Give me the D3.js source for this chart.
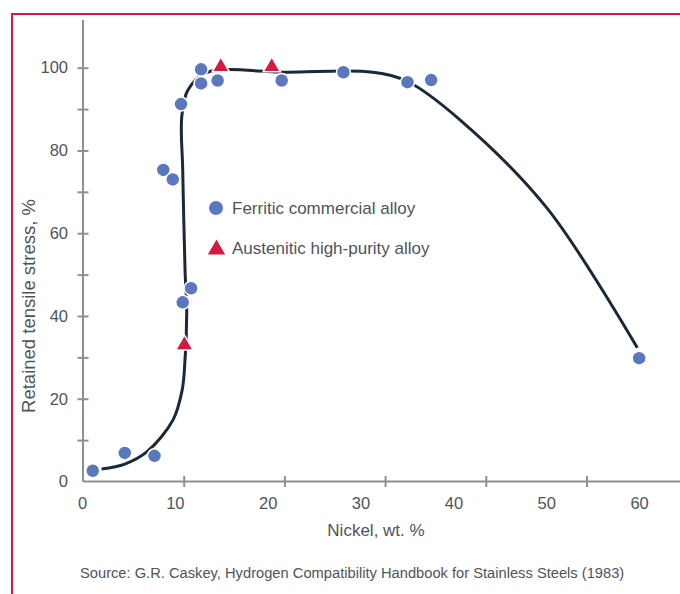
<!DOCTYPE html>
<html>
<head>
<meta charset="utf-8">
<script src="https://cdn.jsdelivr.net/npm/d3@7"></script>
<style>
  body { margin: 0; background: #fff; }
  svg { display: block; font-family: "Liberation Sans", Arial, sans-serif; }
</style>
</head>
<body>
<div id="chart"></div>
<script>
// Ferritic commercial alloy (circles)
let ferriticNi = [1.05, 4.5, 7.7, 8.65, 9.67, 10.56, 10.74, 11.64, 12.72, 12.72, 14.5, 21.4, 28.05, 34.95, 37.5, 59.9];
let ferriticStress = [2.6, 6.9, 6.2, 75.3, 73.0, 91.2, 43.3, 46.7, 99.6, 96.2, 96.9, 96.9, 98.9, 96.5, 97.0, 29.8];

// Austenitic high-purity alloy (triangles)
let austeniticNi = [10.92, 14.84, 20.33];
let austeniticStress = [33.0, 100.2, 100.2];

// trend curve drawn by hand through the data
let curveNi = [2.0, 4.5, 6.9, 9.7, 10.67, 10.92, 11.17, 10.99, 10.74, 10.64, 11.3, 13.3, 22, 31.2, 35, 40.6, 50, 59.7];
let curveStress = [3.0, 4.2, 7.2, 14.9, 22, 26.9, 40.7, 51.1, 75.3, 88.2, 94.6, 98.8, 98.9, 98.9, 96.6, 87.4, 66, 32.3];

let xLabels = [0, 10, 20, 30, 40, 50, 60];
let yMinorTicks = [10, 20, 30, 40, 50, 60, 70, 80, 90, 100];
let yLabels = [0, 20, 40, 60, 80, 100];

let width = 680, height = 594;
let red = "#d51a3f", blue = "#5b78bf", axisGray = "#8b9097", textGray = "#4f5459";

let svg = d3.select("#chart").append("svg")
    .attr("width", width)
    .attr("height", height);

// frame lines
svg.append("line").attr("x1", 12).attr("x2", width).attr("y1", 14).attr("y2", 14)
    .attr("stroke", red).attr("stroke-width", 2);
svg.append("line").attr("x1", 12).attr("x2", 12).attr("y1", 13).attr("y2", height)
    .attr("stroke", red).attr("stroke-width", 2);

let x = d3.scaleLinear().domain([0, 64.3]).range([83, 680]);
let y = d3.scaleLinear().domain([0, 100]).range([481.5, 67.7]);
// the tick marks on the original sit on a slightly wider grid than the labels
let xTick = d3.scaleLinear().domain([0, 5]).range([83, 586.5]);

// x axis line + tick marks
let gx = svg.append("g").attr("transform", `translate(0,${y(0)})`)
    .call(d3.axisBottom(xTick).ticks(5).tickFormat("").tickSizeOuter(0));
gx.select(".domain").attr("d", `M${x(0)},0H${width}`).attr("stroke", axisGray).attr("stroke-width", 2);
gx.selectAll(".tick line").attr("y1", -5.5).attr("y2", 5.5).attr("stroke", axisGray).attr("stroke-width", 2);
gx.selectAll(".tick").filter(d => d === 0).remove();

// x labels
let gxl = svg.append("g").attr("transform", `translate(0,${y(0)})`)
    .call(d3.axisBottom(x).tickValues(xLabels).tickSize(0).tickPadding(15.5));
gxl.select(".domain").remove();
gxl.selectAll("text").attr("font-size", 16.5).attr("fill", textGray)
    .attr("font-family", "'Liberation Sans', Arial, sans-serif")
    .attr("dx", -1);

// y axis
let gy = svg.append("g").attr("transform", `translate(${x(0)},0)`)
    .call(d3.axisLeft(y).tickValues(yMinorTicks).tickFormat("").tickSizeOuter(0));
gy.select(".domain").attr("d", `M0,20V${y(0)}`).attr("stroke", axisGray).attr("stroke-width", 2);
gy.selectAll(".tick line").attr("x1", -5.5).attr("x2", 5.5).attr("stroke", axisGray).attr("stroke-width", 2);

let gyl = svg.append("g").attr("transform", `translate(${x(0)},0)`)
    .call(d3.axisLeft(y).tickValues(yLabels).tickSize(0).tickPadding(15));
gyl.select(".domain").remove();
gyl.selectAll("text").attr("font-size", 16.5).attr("fill", textGray)
    .attr("font-family", "'Liberation Sans', Arial, sans-serif");

// axis titles
svg.append("text")
    .attr("x", 376).attr("y", 536)
    .attr("text-anchor", "middle")
    .attr("font-size", 17).attr("fill", textGray)
    .text("Nickel, wt. %");

svg.append("text")
    .attr("transform", "translate(35,306) rotate(-90)")
    .attr("text-anchor", "middle")
    .attr("font-size", 18.5).attr("fill", textGray)
    .text("Retained tensile stress, %");

svg.append("text")
    .attr("x", 80).attr("y", 578)
    .attr("font-size", 14.7).attr("fill", textGray)
    .text("Source: G.R. Caskey, Hydrogen Compatibility Handbook for Stainless Steels (1983)");

// trend curve
let curvePts = curveNi.map((n, i) => [n, curveStress[i]]);
let line = d3.line()
    .x(d => x(d[0]))
    .y(d => y(d[1]))
    .curve(d3.curveCatmullRom.alpha(0.5));
svg.append("path")
    .datum(curvePts)
    .attr("d", line)
    .attr("fill", "none")
    .attr("stroke", "#1b2838")
    .attr("stroke-width", 3)
    .attr("stroke-linecap", "butt");

let tri = d3.symbol().type(d3.symbolTriangle).size(130);

// markers
svg.append("g").selectAll("path")
    .data(austeniticNi.map((n, i) => [n, austeniticStress[i]]))
    .join("path")
    .attr("d", tri)
    .attr("transform", d => `translate(${x(d[0])},${y(d[1])})`)
    .attr("fill", red)
    .attr("stroke", "#fff").attr("stroke-width", 1.5);

svg.append("g").selectAll("circle")
    .data(ferriticNi.map((n, i) => [n, ferriticStress[i]]))
    .join("circle")
    .attr("cx", d => x(d[0]))
    .attr("cy", d => y(d[1]))
    .attr("r", 7)
    .attr("fill", blue)
    .attr("stroke", "#fff").attr("stroke-width", 1.5);

// legend
let legend = svg.append("g");
legend.append("circle").attr("cx", 216).attr("cy", 208).attr("r", 7).attr("fill", blue);
legend.append("text").attr("x", 232).attr("y", 214)
    .attr("font-size", 17).attr("fill", textGray).text("Ferritic commercial alloy");
legend.append("path").attr("d", tri).attr("transform", "translate(216.5,249.5)").attr("fill", red);
legend.append("text").attr("x", 232).attr("y", 254)
    .attr("font-size", 17).attr("fill", textGray).text("Austenitic high-purity alloy");
</script>
</body>
</html>
